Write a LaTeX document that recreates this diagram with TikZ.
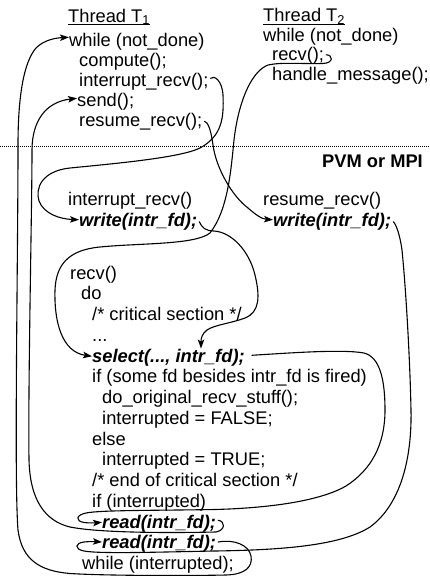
\documentclass[tikz,border=0pt]{standalone}
\usepackage{fontspec}
\setmainfont{Liberation Sans}
\usetikzlibrary{arrows.meta,calc}

\begin{document}
\begin{tikzpicture}[x=1pt,y=-1pt,
  txt/.style={anchor=base west,inner sep=0pt,font=\fontsize{18.3}{20}\selectfont},
  kw/.style={anchor=base west,inner sep=0pt,font=\fontsize{18.3}{20}\selectfont\bfseries\itshape},
  flow/.style={line width=1.1pt,line cap=round},
  arr/.style={flow,-{Stealth[length=9pt,width=6.5pt,inset=2pt]}},
  uline/.style={line width=0.9pt}
]
\useasboundingbox (0,0) rectangle (430,576);

% ---- thread T1 ----
\node[txt] (t1title) at (68,22) {Thread T\textsubscript{1}};
\node[txt] (t1while) at (69,46) {while (not\_done)};
\node[txt] (t1comp)  at (79,66) {compute();};
\node[txt] (t1intr)  at (79,86) {interrupt\_recv();};
\node[txt] (t1send)  at (77,106) {send();};
\node[txt] (t1res)   at (79,126) {resume\_recv();};

% ---- thread T2 ----
\node[txt] (t2title) at (263,21.5) {Thread T\textsubscript{2}};
\node[txt] (t2while) at (263,41.5) {while (not\_done)};
\node[txt] (t2recv)  at (272,60.5) {recv();};
\node[txt] (t2hand)  at (272,80.5) {handle\_message();};

\draw[uline] ([yshift=-2.5pt]t1title.base west) -- ([yshift=-2.5pt]t1title.base east);
\draw[uline] ([yshift=-2.5pt]t2title.base west) -- ([yshift=-2.5pt]t2title.base east);

% ---- library boundary ----
\draw[line width=0.9pt,dash pattern=on 0.9pt off 1.1pt] (0,146) -- (430,146);
\node[txt,anchor=base east,font=\fontsize{18.3}{20}\selectfont\bfseries] (pvm) at (423,167) {PVM or MPI};

% ---- library routines ----
\node[txt] (pintr) at (68,205.5) {interrupt\_recv()};
\node[kw]  (pwr1)  at (79,226.5) {write(intr\_fd);};
\node[txt] (pres)  at (263,205.5) {resume\_recv()};
\node[kw]  (pwr2)  at (273,226.5) {write(intr\_fd);};

\node[txt] (lrecv)  at (70,279)     {recv()};
\node[txt] (ldo)    at (81,299.75)  {do};
\node[txt] (lcrit)  at (92,320.5)   {/* critical section */};
\node[txt] (ldots)  at (92,341.25)  {...};
\node[kw]  (lsel)   at (92,362)     {select(..., intr\_fd);};
\node[txt] (lif)    at (92,382.75)  {if (some fd besides intr\_fd is fired)};
\node[txt] (lorig)  at (102,403.5)  {do\_original\_recv\_stuff();};
\node[txt] (lfalse) at (102,424.25) {interrupted = FALSE;};
\node[txt] (lelse)  at (92,445)     {else};
\node[txt] (ltrue)  at (102,465.75) {interrupted = TRUE;};
\node[txt] (lend)   at (92,486.5)   {/* end of critical section */};
\node[txt] (lif2)   at (92,507.25)  {if (interrupted)};
\node[kw]  (lread1) at (102,528)    {read(intr\_fd);};
\node[kw]  (lread2) at (102,548.75) {read(intr\_fd);};
\node[txt] (lwhile) at (82,569.5)   {while (interrupted);};

% ---- control flow ----
% interrupt_recv() of T1 into the library
\draw[arr] ($(t1intr.east)+(2,-3)$) .. controls (214,75) and (222,80) .. (223,95)
  .. controls (224,118) and (222,136) .. (200,148)
  .. controls (180,158) and (110,164) .. (70,168)
  .. controls (42,171) and (35,188) .. (39,201)
  .. controls (44,214) and (60,219) .. ([yshift=2pt]pwr1.west);

% resume_recv() of T1 into the library
\draw[arr] ($(t1res.east)+(2,0)$) .. controls (208,122) and (211,130) .. (213,145)
  .. controls (216,168) and (232,196) .. (248,208)
  .. controls (256,215) and (262,219) .. ([yshift=2pt]pwr2.west);

% recv() of T2 down to select
\draw[arr] ($(t2recv.east)+(2,-1)$) .. controls (333,55) and (334,63) .. (323,63.5)
  .. controls (300,64) and (282,62) .. (268,65)
  .. controls (250,72) and (238,105) .. (234,140)
  .. controls (231,170) and (228,210) .. (210,233)
  .. controls (195,245) and (140,243) .. (100,247)
  .. controls (68,250) and (56,265) .. (55,290)
  .. controls (54,322) and (62,352) .. ([yshift=1pt]lsel.west);

% first write wakes select
\draw[arr] ($(pwr1.east)+(2,0)$) .. controls (202,228) and (206,231) .. (214,231)
  .. controls (231,232) and (249,250) .. (255,275)
  .. controls (260,296) and (260,312) .. (245,318)
  .. controls (232,323) and (214,325) .. (207,330)
  .. controls (202,334) and (201,338) .. ([xshift=109pt]lsel.north west);

% select returns: first read
\draw[arr] ($(lsel.east)+(7,-2)$) .. controls (290,353) and (342,349) .. (364,353)
  .. controls (380,357) and (385,380) .. (385,410)
  .. controls (385,445) and (371,470) .. (346,486)
  .. controls (320,501) and (270,508) .. (215,509.5)
  .. controls (160,510.5) and (100,510) .. (86,513)
  .. controls (76,515) and (75,521) .. (84,522.5)
  .. controls (88,523) and (94,523) .. ([yshift=1pt]lread1.west);

% back to T1: send()
\draw[arr] ($(lread1.east)+(2,-3)$) .. controls (225,521) and (226,530) .. (216,532)
  .. controls (170,533) and (100,533) .. (70,527)
  .. controls (45,521) and (30,500) .. (29,460)
  .. controls (28,380) and (32,210) .. (32,150)
  .. controls (32,122) and (45,102) .. ([yshift=3pt]t1send.west);

% second write: second read
\draw[arr] ($(pwr2.east)+(2,0)$) .. controls (396,224) and (400,235) .. (402,250)
  .. controls (406,290) and (410,360) .. (411,410)
  .. controls (412,460) and (400,505) .. (370,527)
  .. controls (340,546) and (280,550) .. (215,551)
  .. controls (160,552) and (100,554) .. (84,551)
  .. controls (74,549) and (75,543) .. (84,542)
  .. controls (88,541.5) and (94,541.5) .. ([yshift=2pt]lread2.west);

% loop exit back to T1: while (not_done)
\draw[arr] ($(lread2.east)+(2,-2)$) .. controls (234,539) and (249,545) .. (251,556)
  .. controls (253,567) and (245,574.5) .. (226,575)
  .. controls (180,576) and (100,575.5) .. (70,573.5)
  .. controls (40,571) and (22,560) .. (18,530)
  .. controls (14,480) and (18,260) .. (18,145)
  .. controls (18,95) and (24,62) .. (36,48)
  .. controls (44,40) and (55,38) .. ([yshift=4pt]t1while.west);
\end{tikzpicture}
\end{document}
